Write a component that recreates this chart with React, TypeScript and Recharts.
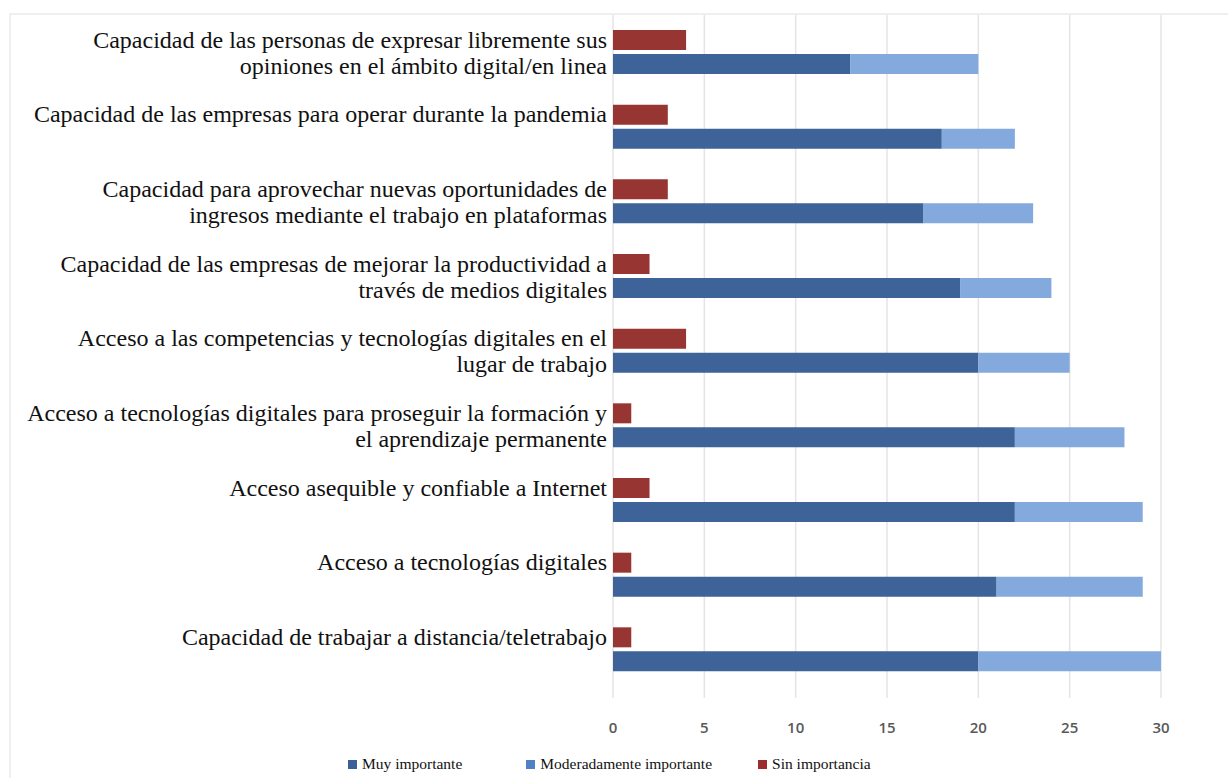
import React from 'react';
import { BarChart, Bar, XAxis, YAxis, CartesianGrid, Legend } from 'recharts';

// categories (each label split into its printed lines)
const categories = [
  ['Capacidad de las personas de expresar libremente sus', 'opiniones en el ámbito digital/en linea'],
  ['Capacidad de las empresas para operar durante la pandemia'],
  ['Capacidad para aprovechar nuevas oportunidades de', 'ingresos mediante el trabajo en plataformas'],
  ['Capacidad de las empresas de mejorar la productividad a', 'través de medios digitales'],
  ['Acceso a las competencias y tecnologías digitales en el', 'lugar de trabajo'],
  ['Acceso a tecnologías digitales para proseguir la formación y', 'el aprendizaje permanente'],
  ['Acceso asequible y confiable a Internet'],
  ['Acceso a tecnologías digitales'],
  ['Capacidad de trabajar a distancia/teletrabajo'],
];

const muyImportante = [13, 18, 17, 19, 20, 22, 22, 21, 20];
const moderadamente = [7, 4, 6, 5, 5, 6, 7, 8, 10];
const sinImportancia = [4, 3, 3, 2, 4, 1, 2, 1, 1];

const xTicks = [0, 5, 10, 15, 20, 25, 30];

const SERIES = [
  { key: 'muy', name: 'Muy importante', bar: '#3d6399', marker: '#3b5f98' },
  { key: 'mod', name: 'Moderadamente importante', bar: '#84a9dd', marker: '#4f81c4' },
  { key: 'sin', name: 'Sin importancia', bar: '#973533', marker: '#9b2d2d' },
];

const data = categories.map((lines, i) => ({
  label: lines.join(' '),
  muy: muyImportante[i],
  mod: moderadamente[i],
  sin: sinImportancia[i],
}));

const SERIF = '"Liberation Serif", "Times New Roman", serif';
const LEGEND_GAPS = [0, 64, 46];

const CategoryTick = (props: any) => {
  const { x, y, payload } = props;
  const idx = data.findIndex(d => d.label === payload.value);
  const lines = idx >= 0 ? categories[idx] : [String(payload.value)];
  return (
    <g transform={`translate(${x + 2},${y})`}>
      {lines.map((line, i) => (
        <text
          key={i}
          x={0}
          y={-13 + i * 26}
          dy="0.35em"
          textAnchor="end"
          fontFamily={SERIF}
          fontSize={24}
          fill="#111"
        >
          {line}
        </text>
      ))}
    </g>
  );
};

const LegendContent = () => (
  <div style={{ display: 'flex', justifyContent: 'flex-start', paddingLeft: 348, fontFamily: SERIF, fontSize: 15.5, color: '#111' }}>
    {SERIES.map((s, i) => (
      <div key={s.key} style={{ display: 'flex', alignItems: 'center', marginLeft: LEGEND_GAPS[i] }}>
        <span style={{ display: 'inline-block', width: 9, height: 9, background: s.marker, marginRight: 5 }} />
        <span>{s.name}</span>
      </div>
    ))}
  </div>
);

export default function App() {
  return (
    <div style={{ position: 'absolute', left: 0, top: 0, width: 1228, height: 778, background: '#fff' }}>
      <div
        style={{
          position: 'absolute',
          left: 9,
          top: 13,
          width: 1219,
          height: 765,
          borderTop: '2px solid #efefef',
          borderLeft: '2px solid #efefef',
          boxSizing: 'border-box',
        }}
      />
      <BarChart
        width={1228}
        height={778}
        data={data}
        layout="vertical"
        margin={{ top: 15, right: 67, bottom: 6, left: 0 }}
        barSize={20}
        barGap={4}
        style={{ position: 'absolute', left: 0, top: 0 }}
      >
        <CartesianGrid horizontal={false} stroke="#e4e4e4" strokeWidth={1.5} />
        <XAxis
          type="number"
          domain={[0, 30]}
          ticks={xTicks}
          axisLine={false}
          tickLine={false}
          tickSize={0}
          tickMargin={24}
          height={56}
          tick={{ fontFamily: '"Open Sans", sans-serif', fontSize: 15, fontWeight: 600, fill: '#595959' }}
        />
        <YAxis
          type="category"
          dataKey="label"
          width={613}
          axisLine={false}
          tickLine={false}
          interval={0}
          tick={<CategoryTick />}
          padding={{ top: 0, bottom: 11 }}
        />
        <Legend
          verticalAlign="bottom"
          content={<LegendContent />}
          wrapperStyle={{ left: 0, width: 1228, top: 755 }}
        />
        <Bar dataKey="sin" name="Sin importancia" stackId="red" fill={SERIES[2].bar} isAnimationActive={false} />
        <Bar dataKey="muy" name="Muy importante" stackId="blue" fill={SERIES[0].bar} isAnimationActive={false} />
        <Bar dataKey="mod" name="Moderadamente importante" stackId="blue" fill={SERIES[1].bar} isAnimationActive={false} />
      </BarChart>
    </div>
  );
}
